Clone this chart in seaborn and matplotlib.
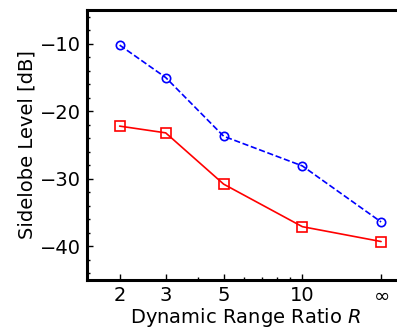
import matplotlib
matplotlib.use("Agg")
import matplotlib.pyplot as plt
import seaborn as sns
import pandas as pd
from matplotlib.ticker import FixedLocator, FixedFormatter, MultipleLocator, LogLocator, NullFormatter

# data
r_labels = ["2", "3", "5", "10", "$\\infty$"]
r_pos = [2, 3, 5, 10, 20]          # infinity drawn at 20 on the log axis
blue_vals = [-10.2, -15.0, -23.7, -28.1, -36.4]
red_vals = [-22.2, -23.2, -30.8, -37.1, -39.3]

df_blue = pd.DataFrame({"R": r_pos, "SLL": blue_vals})
df_red = pd.DataFrame({"R": r_pos, "SLL": red_vals})

sns.set_style("white")
plt.rcParams["font.family"] = ["DejaVu Sans"]
plt.rcParams["text.color"] = "black"
plt.rcParams["axes.labelcolor"] = "black"

fig = plt.figure(figsize=(3.97, 3.28), dpi=100)
ax = fig.add_axes([0.2191, 0.1463, 0.80, 0.8232])

sns.lineplot(data=df_blue, x="R", y="SLL", ax=ax, color="blue", linestyle="--",
             dashes=(4.5, 3.5), linewidth=1.2, marker="o", markersize=6,
             markerfacecolor="none", markeredgecolor="blue", markeredgewidth=1.2)
sns.lineplot(data=df_red, x="R", y="SLL", ax=ax, color="red", linestyle="-",
             linewidth=1.2, marker="s", markersize=6.5,
             markerfacecolor="none", markeredgecolor="red", markeredgewidth=1.2)

ax.set_xscale("log")
ax.set_xlim(1.5, 24.6)
ax.set_ylim(-45, -5)
ax.xaxis.set_major_locator(FixedLocator(r_pos))
ax.xaxis.set_major_formatter(FixedFormatter(r_labels))
ax.xaxis.set_minor_locator(LogLocator(base=10, subs=[4, 6, 7, 8, 9]))
ax.xaxis.set_minor_formatter(NullFormatter())
ax.yaxis.set_major_locator(MultipleLocator(10))
ax.yaxis.set_minor_locator(MultipleLocator(2))

for s in ax.spines.values():
    s.set_linewidth(2.2)
    s.set_color("black")

ax.tick_params(which="major", direction="in", length=4, width=1, labelsize=14,
               colors="black", left=True, bottom=True, top=False, right=False, pad=4)
ax.tick_params(which="minor", direction="in", length=2, width=1, colors="black",
               left=True, bottom=True, top=False, right=False)

ax.set_xlabel("Dynamic Range Ratio $R$", fontsize=14, labelpad=1, color="black")
ax.set_ylabel("Sidelobe Level [dB]", fontsize=14, labelpad=3, color="black")

fig.savefig("out.png", dpi=100)
